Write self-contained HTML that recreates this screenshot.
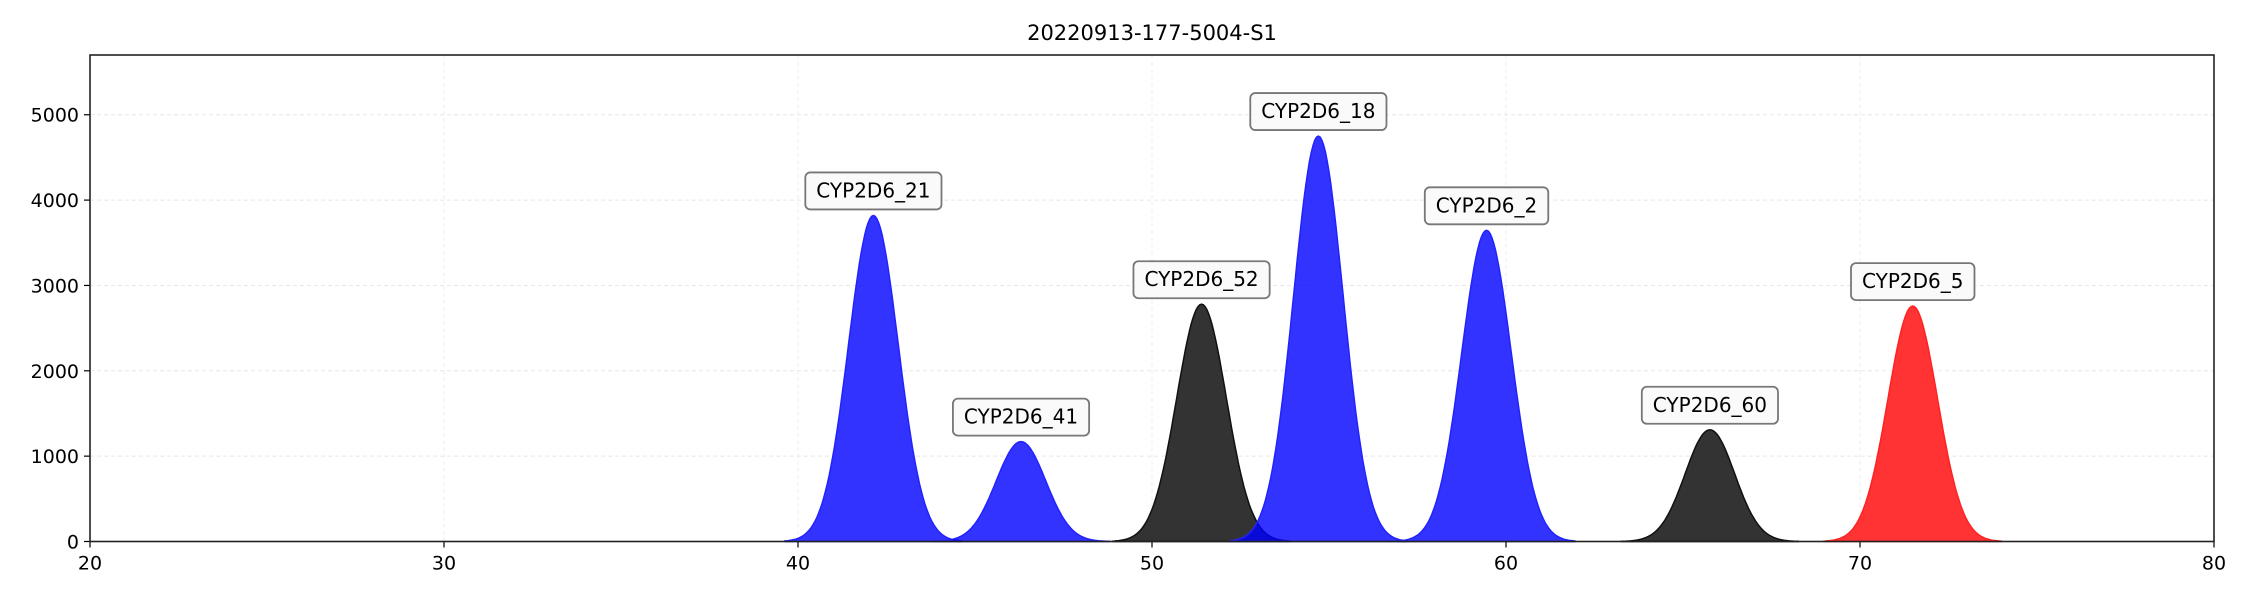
<!DOCTYPE html>
<html><head><meta charset="utf-8"><style>body{margin:0;background:#fff}svg{display:block;font-family:"DejaVu Sans","Liberation Sans",sans-serif}</style></head>
<body>
<svg id="chart" width="2250" height="600" viewBox="0 0 2250 600" xmlns="http://www.w3.org/2000/svg">
<text x="1152" y="40" font-size="21" text-anchor="middle">20220913-177-5004-S1</text>
<g id="grid"></g><g id="peaks"></g><g id="axes"></g><g id="labels"></g>
</svg>
<script>
const peakNames=["CYP2D6_21","CYP2D6_41","CYP2D6_52","CYP2D6_18","CYP2D6_2","CYP2D6_60","CYP2D6_5"];
const peakCenters=[42.13,46.3,51.4,54.7,59.45,65.76,71.49];
const peakHeights=[3820,1170,2780,4750,3646,1309,2758];
const peakColors=["blue","blue","black","blue","blue","black","red"];
const xTicks=[20,30,40,50,60,70,80];
const yTicks=[0,1000,2000,3000,4000,5000];
const NS="http://www.w3.org/2000/svg";
const L=90,R=2214,T=55,B=541.5,xmin=20,xmax=80,ymax=5700;
const sx=v=>L+(v-xmin)/(xmax-xmin)*(R-L);
const sy=v=>B-v/ymax*(B-T);
function mk(t,a,p){const e=document.createElementNS(NS,t);for(const k in a)e.setAttribute(k,a[k]);p.appendChild(e);return e;}
const grid=document.getElementById('grid'),axes=document.getElementById('axes'),pk=document.getElementById('peaks'),lb=document.getElementById('labels');
xTicks.forEach(t=>{const g=mk('line',{x1:sx(t),x2:sx(t),y1:T,y2:B,stroke:'#eeeeee','stroke-width':1,'stroke-dasharray':'4,3'},grid);

const k=mk('line',{x1:sx(t),x2:sx(t),y1:B,y2:B+6,stroke:'#000','stroke-width':1.2},axes);

const s=mk('text',{x:sx(t),y:B+28,'font-size':19,'text-anchor':'middle'},axes);s.textContent=t;
});
yTicks.forEach(t=>{const g=mk('line',{x1:L,x2:R,y1:sy(t),y2:sy(t),stroke:'#e8e8e8','stroke-width':1,'stroke-dasharray':'4,3'},grid);

const k=mk('line',{x1:L-6,x2:L,y1:sy(t),y2:sy(t),stroke:'#000','stroke-width':1.2},axes);

const s=mk('text',{x:L-11,y:sy(t)+7,'font-size':19,'text-anchor':'end'},axes);s.textContent=t;
});
const fills={blue:['rgba(0,0,255,0.8)','#2222ff'],black:['rgba(0,0,0,0.8)','#111'],red:['rgba(255,0,0,0.8)','#ff2222']};
peakNames.forEach((n,i)=>{const c=peakCenters[i],h=peakHeights[i],sg=0.7;let d='M'+sx(c-2.5)+','+sy(0);
for(let x=c-2.5;x<=c+2.5001;x+=0.05)d+=' L'+sx(x).toFixed(1)+','+sy(h*Math.exp(-((x-c)**2)/(2*sg*sg))).toFixed(1);
d+=' L'+sx(c+2.5)+','+sy(0)+' Z';
const p=mk('path',{d:d,fill:fills[peakColors[i]][0],stroke:fills[peakColors[i]][1],'stroke-width':1.5},pk);

const g=mk('g',{},lb);
const ty=sy(h)-25;const txt=mk('text',{x:sx(c),y:ty+7,'font-size':20,'text-anchor':'middle'},g);txt.textContent=n;
const w=txt.getComputedTextLength()+22;
const r=mk('rect',{x:sx(c)-w/2,y:ty-18,width:w,height:37,rx:5,fill:'rgba(250,250,250,0.9)',stroke:'#777','stroke-width':1.8},g);
g.insertBefore(r,txt);});
const fr=mk('rect',{x:L,y:T,width:R-L,height:B-T,fill:'none',stroke:'#222','stroke-width':1.6},axes);

</script>
</body></html>
